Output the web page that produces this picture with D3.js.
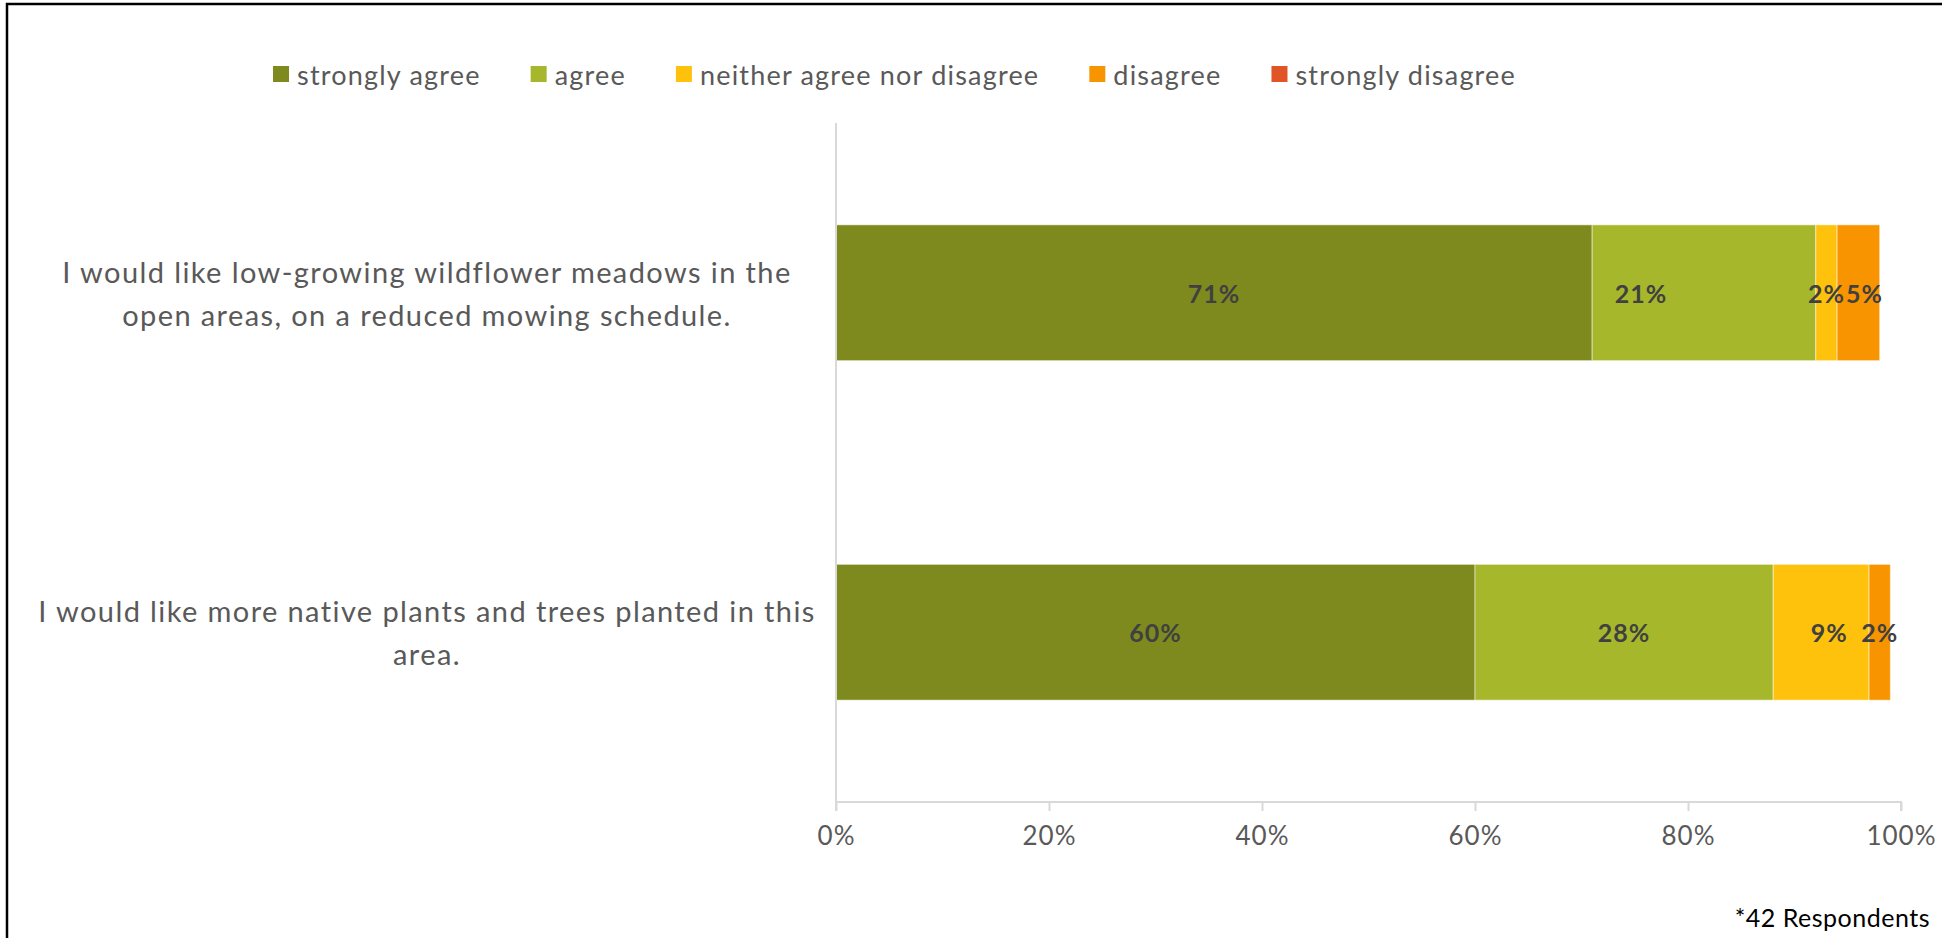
<!DOCTYPE html>
<html>
<head>
<meta charset="utf-8">
<script src="https://cdn.jsdelivr.net/npm/d3@7"></script>
<style>
  html, body { margin: 0; padding: 0; background: #fff; }
  svg { display: block; font-family: Lato, "Open Sans", sans-serif; }
</style>
</head>
<body>
<svg id="chart" width="1942" height="938"></svg>
<script>
// data
var categories = [
  "I would like low-growing wildflower meadows in the open areas, on a reduced mowing schedule.",
  "I would like more native plants and trees planted in this area."
];
var categoryLines = [
  ["I would like low-growing wildflower meadows in the", "open areas, on a reduced mowing schedule."],
  ["I would like more native plants and trees planted in this", "area."]
];
var seriesNames = ["strongly agree", "agree", "neither agree nor disagree", "disagree", "strongly disagree"];
var seriesColors = ["#7e8a1e", "#a7b72b", "#fec20c", "#f79400", "#e05427"];
// percent per category, in series order
var meadowValues = [71, 21, 2, 4, 0];
var nativeValues = [60, 28, 9, 2, 0];
var meadowLabels = ["71%", "21%", "2%", "5%", ""];
var nativeLabels = ["60%", "28%", "9%", "2%", ""];
var tickValues = [0, 0.2, 0.4, 0.6, 0.8, 1];
var footnote = "*42 Respondents";

var PLOT = { left: 836, right: 1901, top: 123, bottom: 802 };

// hand-moved data labels in the original (row-series: dx in px)
var LABEL_NUDGE = { "0-1": -63, "0-3": 6, "1-2": 8 };

var svg = d3.select("#chart");

// outer frame (right and bottom edges run off the picture)
svg.append("rect")
  .attr("x", 7).attr("y", 4)
  .attr("width", 2000).attr("height", 1000)
  .attr("fill", "none")
  .attr("stroke", "#000")
  .attr("stroke-width", 2.5);

var x = d3.scaleLinear().domain([0, 1]).range([PLOT.left, PLOT.right]);
var y = d3.scaleBand()
  .domain(categories)
  .range([PLOT.top, PLOT.bottom])
  .paddingInner(0.6)
  .paddingOuter(0.3);

var rows = [
  { cat: categories[0], values: meadowValues, labels: meadowLabels, lines: categoryLines[0] },
  { cat: categories[1], values: nativeValues, labels: nativeLabels, lines: categoryLines[1] }
];

// stacked segments
rows.forEach(function(row, r) {
  var start = 0;
  var segs = row.values.map(function(v, i) {
    var s = { x0: start / 100, x1: (start + v) / 100, color: seriesColors[i],
              label: row.labels[i], nudge: LABEL_NUDGE[r + "-" + i] || 0 };
    start += v;
    return s;
  }).filter(function(s) { return s.x1 > s.x0; });

  var g = svg.append("g").attr("class", "bar-row");

  g.selectAll("rect")
    .data(segs)
    .enter()
    .append("rect")
    .attr("x", function(d) { return x(d.x0); })
    .attr("y", y(row.cat))
    .attr("width", function(d) { return x(d.x1) - x(d.x0); })
    .attr("height", y.bandwidth())
    .attr("fill", function(d) { return d.color; })
    .attr("stroke", "#fff")
    .attr("stroke-opacity", 0.5)
    .attr("stroke-width", 1);

  g.selectAll("text")
    .data(segs)
    .enter()
    .append("text")
    .attr("x", function(d) { return (x(d.x0) + x(d.x1)) / 2 + d.nudge; })
    .attr("y", y(row.cat) + y.bandwidth() / 2)
    .attr("text-anchor", "middle")
    .attr("dominant-baseline", "central")
    .attr("font-size", "25px")
    .attr("font-weight", "700")
    .attr("letter-spacing", "1px")
    .attr("fill", "#404040")
    .text(function(d) { return d.label; });

  // category label, centred in the left area
  var lbl = svg.append("text")
    .attr("text-anchor", "middle")
    .attr("font-size", "29px")
    .attr("letter-spacing", "1.4px")
    .attr("fill", "#595959");
  var lineH = 43;
  var cy = y(row.cat) + y.bandwidth() / 2;
  row.lines.forEach(function(line, i) {
    lbl.append("tspan")
      .attr("x", 427)
      .attr("y", cy + (i - (row.lines.length - 1) / 2) * lineH)
      .attr("dominant-baseline", "central")
      .text(line);
  });
});

// vertical axis line
svg.append("line")
  .attr("x1", x(0)).attr("x2", x(0))
  .attr("y1", PLOT.top).attr("y2", PLOT.bottom)
  .attr("stroke", "#d9d9d9")
  .attr("stroke-width", 2);

// bottom axis
var xAxis = d3.axisBottom(x)
  .tickValues(tickValues)
  .tickSize(9)
  .tickPadding(16)
  .tickFormat(d3.format(".0%"));

var axisG = svg.append("g")
  .attr("transform", "translate(0," + PLOT.bottom + ")")
  .call(xAxis);

axisG.select(".domain")
  .attr("stroke", "#d9d9d9")
  .attr("stroke-width", 2)
  .attr("d", "M" + x(0) + ",9V0H" + x(1) + "V9");
axisG.selectAll(".tick line")
  .attr("stroke", "#d9d9d9")
  .attr("stroke-width", 2);
axisG.selectAll(".tick text")
  .attr("font-family", "Lato, sans-serif")
  .attr("font-size", "26px")
  .attr("letter-spacing", "1px")
  .attr("fill", "#595959");

// legend
var legend = svg.append("g").attr("class", "legend");
var lx = 273, ly = 74;
seriesNames.forEach(function(name, i) {
  legend.append("rect")
    .attr("x", lx)
    .attr("y", ly - 8)
    .attr("width", 16)
    .attr("height", 16)
    .attr("fill", seriesColors[i]);
  var t = legend.append("text")
    .attr("x", lx + 24)
    .attr("y", ly)
    .attr("dominant-baseline", "central")
    .attr("font-size", "27px")
    .attr("letter-spacing", "1.2px")
    .attr("fill", "#595959")
    .text(name);
  lx += 24 + t.node().getComputedTextLength() + 50;
});

// footnote
svg.append("text")
  .attr("x", 1930)
  .attr("y", 917)
  .attr("text-anchor", "end")
  .attr("dominant-baseline", "central")
  .attr("font-size", "25px")
  .attr("letter-spacing", "0.5px")
  .attr("fill", "#000")
  .text(footnote);
</script>
</body>
</html>
